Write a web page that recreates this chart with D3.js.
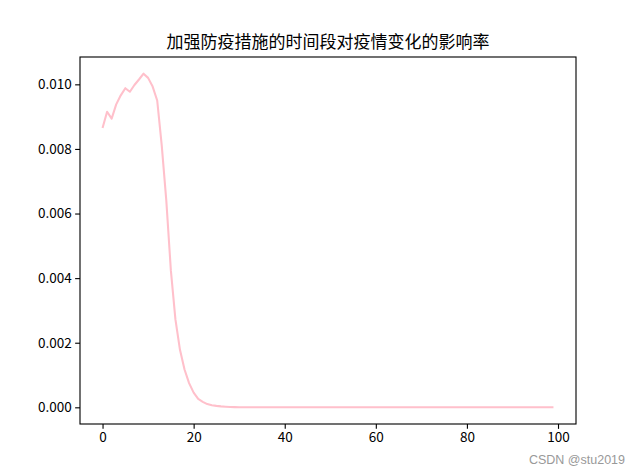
<!DOCTYPE html>
<html>
<head>
<meta charset="utf-8">
<script src="https://cdn.jsdelivr.net/npm/d3@7"></script>
<style>
html,body{margin:0;padding:0;background:#fff;}
svg{display:block;}
</style>
</head>
<body>
<svg id="chart" width="640" height="476"></svg>
<script>
const title = "加强防疫措施的时间段对疫情变化的影响率";
const watermark = "CSDN @stu2019";
const days = d3.range(0, 100);
const rates = [
  0.00865, 0.00915, 0.00894, 0.00938, 0.00966, 0.00988, 0.00977, 0.00998, 0.01015, 0.01033,
  0.01020, 0.00993, 0.00950, 0.00810, 0.00640, 0.00424, 0.00272, 0.00178, 0.00117, 0.00075,
  0.000455, 0.00026, 0.00017, 0.00010, 0.000065, 0.000045, 0.00003, 0.00002, 0.000012, 0.000007,
  0.000004, 0.000002, 0.000001, 0, 0, 0, 0, 0, 0, 0,
  0, 0, 0, 0, 0, 0, 0, 0, 0, 0,
  0, 0, 0, 0, 0, 0, 0, 0, 0, 0,
  0, 0, 0, 0, 0, 0, 0, 0, 0, 0,
  0, 0, 0, 0, 0, 0, 0, 0, 0, 0,
  0, 0, 0, 0, 0, 0, 0, 0, 0, 0,
  0, 0, 0, 0, 0, 0, 0, 0, 0, 0
];
const xTicks = [0, 20, 40, 60, 80, 100];
const yTicks = [0, 0.002, 0.004, 0.006, 0.008, 0.010];

const svg = d3.select("#chart");
const L = 80, R = 576, T = 57, B = 424;
const font = "'Noto Sans CJK SC', 'Noto Sans', sans-serif";

const xMin = d3.min(days), xMax = d3.max(days);
const xPad = (xMax - xMin) * 0.05;
const yMin = d3.min(rates), yMax = d3.max(rates);
const yPad = (yMax - yMin) * 0.05;

const x = d3.scaleLinear().domain([xMin - xPad, xMax + xPad]).range([L, R]);
const y = d3.scaleLinear().domain([yMin - yPad, yMax + yPad]).range([B, T]);

// line
svg.append("path")
  .datum(days.map((d, i) => [d, rates[i]]))
  .attr("fill", "none")
  .attr("stroke", "#ffc0cb")
  .attr("stroke-width", 2.08)
  .attr("stroke-linejoin", "round")
  .attr("stroke-linecap", "butt")
  .attr("d", d3.line().x(d => x(d[0])).y(d => y(d[1])));

// axes
const xAxis = svg.append("g")
  .attr("transform", `translate(0,${B})`)
  .call(d3.axisBottom(x).tickValues(xTicks).tickFormat(d3.format("d")).tickSizeOuter(0).tickSize(4.86).tickPadding(3.5));
const yAxis = svg.append("g")
  .attr("transform", `translate(${L},0)`)
  .call(d3.axisLeft(y).tickValues(yTicks).tickFormat(d3.format(".3f")).tickSizeOuter(0).tickSize(4.86).tickPadding(3.5));
[xAxis, yAxis].forEach(g => {
  g.select(".domain").remove();
  g.selectAll(".tick line").attr("stroke", "#000").attr("stroke-width", 1.11);
  g.selectAll(".tick text").attr("fill", "#000").style("font-family", font).style("font-size", "13.5px");
});

// frame
svg.append("rect")
  .attr("x", L).attr("y", T).attr("width", R - L).attr("height", B - T)
  .attr("fill", "none").attr("stroke", "#000").attr("stroke-width", 1.11);

// title
svg.append("text")
  .attr("x", (L + R) / 2).attr("y", 48)
  .attr("text-anchor", "middle")
  .style("font-family", font).style("font-size", "17px")
  .attr("fill", "#000")
  .text(title);

// watermark
svg.append("text")
  .attr("x", 625).attr("y", 464)
  .attr("text-anchor", "end")
  .style("font-family", "'Liberation Sans', Arial, sans-serif").style("font-size", "12.5px")
  .attr("fill", "#999")
  .text(watermark);
</script>
</body>
</html>
